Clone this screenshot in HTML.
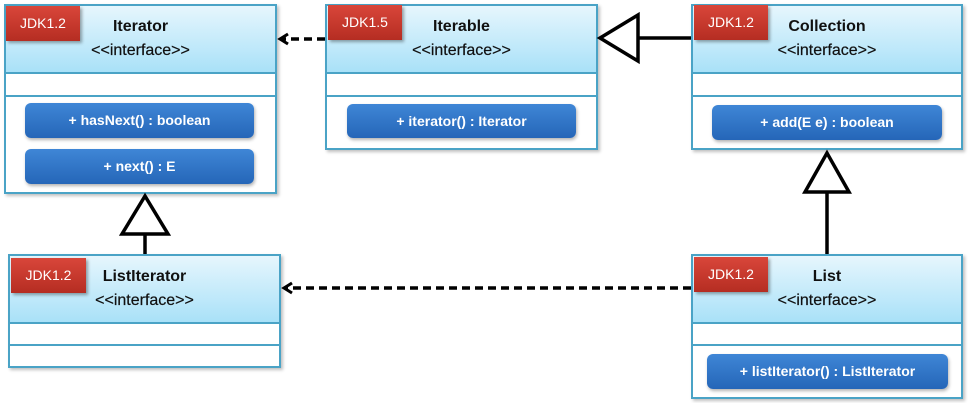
<!DOCTYPE html>
<html><head><meta charset="utf-8"><style>
body{margin:0;width:968px;height:403px;background:#fff;position:relative;overflow:hidden;font-family:"Liberation Sans",sans-serif}
.box{position:absolute;border:2px solid #4aa3c6;background:#fff;box-sizing:border-box;box-shadow:2px 2px 3px rgba(0,0,0,.25)}
.hd{position:absolute;left:0;right:0;top:0;background:linear-gradient(#e6f6fd,#a9e1f8);border-bottom:2px solid #4aa3c6;text-align:center;font-weight:bold;font-size:16px;color:#111;line-height:24px}
.hd .t{padding-top:9px}
.hd .s{font-weight:normal;font-size:16px;-webkit-text-stroke:.2px #111}
.sep{position:absolute;left:0;right:0;border-top:2px solid #4aa3c6}
.badge{position:absolute;background:linear-gradient(#d9463a,#b52d22);color:#fff;font-size:14px;text-align:center;line-height:34px;box-shadow:2px 2px 3px rgba(0,0,0,.35)}
.pill{position:absolute;background:linear-gradient(#3f86d6,#2566b8);border-radius:6px;color:#fff;font-weight:bold;font-size:14px;text-align:center;line-height:34px;box-shadow:1px 2px 3px rgba(0,0,0,.3)}
svg{position:absolute;left:0;top:0}
</style></head><body>

<div class="box" style="left:4px;top:4px;width:273px;height:190px">
 <div class="hd" style="height:66px"><div class="t">Iterator</div><div class="s">&lt;&lt;interface&gt;&gt;</div></div>
 <div class="sep" style="top:89px"></div>
</div>
<div class="badge" style="left:6px;top:6px;width:74px;height:35px">JDK1.2</div>
<div class="pill" style="left:25px;top:103px;width:229px;height:35px">+ hasNext() : boolean</div>
<div class="pill" style="left:25px;top:149px;width:229px;height:35px">+ next() : E</div>

<div class="box" style="left:325px;top:4px;width:273px;height:146px">
 <div class="hd" style="height:66px"><div class="t">Iterable</div><div class="s">&lt;&lt;interface&gt;&gt;</div></div>
 <div class="sep" style="top:89px"></div>
</div>
<div class="badge" style="left:328px;top:5px;width:74px;height:35px">JDK1.5</div>
<div class="pill" style="left:347px;top:104px;width:229px;height:34px">+ iterator() : Iterator</div>

<div class="box" style="left:691px;top:4px;width:272px;height:146px">
 <div class="hd" style="height:66px"><div class="t">Collection</div><div class="s">&lt;&lt;interface&gt;&gt;</div></div>
 <div class="sep" style="top:89px"></div>
</div>
<div class="badge" style="left:694px;top:5px;width:74px;height:35px">JDK1.2</div>
<div class="pill" style="left:712px;top:105px;width:230px;height:35px">+ add(E e) : boolean</div>

<div class="box" style="left:8px;top:254px;width:273px;height:114px">
 <div class="hd" style="height:66px"><div class="t">ListIterator</div><div class="s">&lt;&lt;interface&gt;&gt;</div></div>
 <div class="sep" style="top:88px"></div>
</div>
<div class="badge" style="left:11px;top:258px;width:75px;height:35px">JDK1.2</div>

<div class="box" style="left:691px;top:254px;width:272px;height:145px">
 <div class="hd" style="height:66px"><div class="t">List</div><div class="s">&lt;&lt;interface&gt;&gt;</div></div>
 <div class="sep" style="top:88px"></div>
</div>
<div class="badge" style="left:694px;top:257px;width:74px;height:35px">JDK1.2</div>
<div class="pill" style="left:707px;top:354px;width:241px;height:35px">+ listIterator() : ListIterator</div>

<svg width="968" height="403">
 <g stroke="#000" stroke-width="3.5" fill="none">
  <line x1="325" y1="39" x2="282" y2="39" stroke-dasharray="8,5"/>
  <polyline points="288,34 280,39 288,44" stroke-width="3"/>
  <line x1="691" y1="288" x2="286" y2="288" stroke-dasharray="8,5"/>
  <polyline points="292,283 284,288 292,293" stroke-width="3"/>
  <line x1="691" y1="38" x2="638" y2="38"/>
  <polygon points="600,38 638,15 638,61" fill="#fff"/>
  <line x1="827" y1="192" x2="827" y2="254"/>
  <polygon points="827,153 805,192 849,192" fill="#fff"/>
  <line x1="145" y1="234" x2="145" y2="254"/>
  <polygon points="145,196 122,234 168,234" fill="#fff"/>
 </g>
</svg>
</body></html>
